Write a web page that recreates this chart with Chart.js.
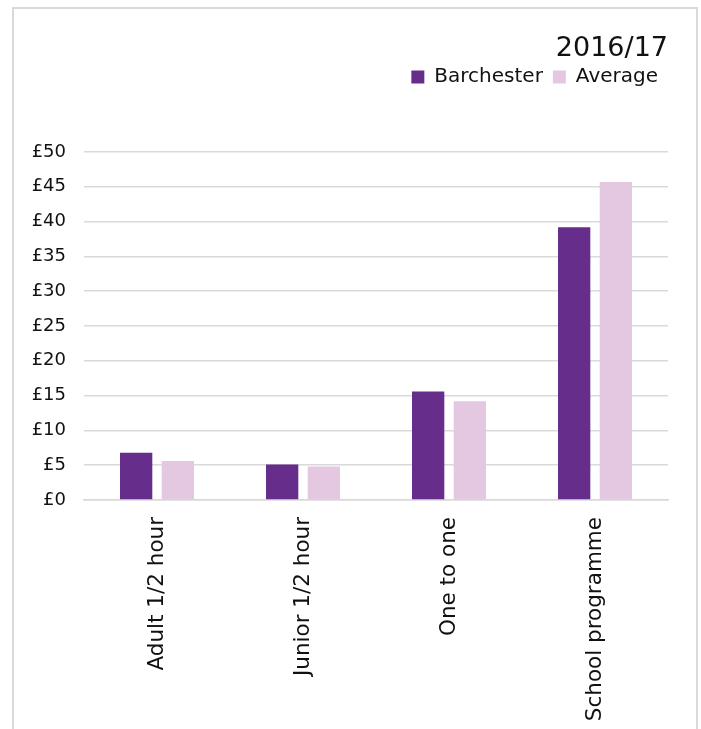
<!DOCTYPE html>
<html>
<head>
<meta charset="utf-8">
<script src="https://cdn.jsdelivr.net/npm/chart.js@4/dist/chart.umd.min.js"></script>
<style>
  html, body { margin:0; padding:0; background:#fff; }
  #wrap { position:relative; width:701px; height:729px; overflow:hidden; }
  #frame { position:absolute; left:12px; top:7px; width:686px; height:760px; border:2px solid #d9d9d9; box-sizing:border-box; }
  #c { position:absolute; left:0; top:0; }
</style>
</head>
<body>
<div id="wrap">
  <div id="frame"></div>
  <canvas id="c" width="701" height="729"></canvas>
</div>
<script>
const categories = ['Adult 1/2 hour', 'Junior 1/2 hour', 'One to one', 'School programme'];
const barchester = [6.8, 5.1, 15.6, 39.2];
const average    = [5.6, 4.8, 14.2, 45.7];
const yMin = 0, yMax = 50, yStep = 5;

const FONT = "'DejaVu Sans', Verdana, sans-serif";
const GRID = '#d9d9d9';

new Chart(document.getElementById('c'), {
  type:'bar',
  data:{
    labels: categories,
    datasets:[
      { label:'Barchester', data:barchester, backgroundColor:'#662d8a' },
      { label:'Average',    data:average,    backgroundColor:'#e4c8e2' },
    ]
  },
  options:{
    responsive:false, animation:false,
    layout:{ padding:{ left:14, right:33, top:0, bottom:0 } },
    datasets:{ bar:{ categoryPercentage:0.571, barPercentage:0.775 } },
    plugins:{
      title:{ display:true, text:'2016/17', align:'end', color:'#111',
              font:{ family:FONT, size:27, weight:'normal', lineHeight:1 },
              padding:{ top:35, bottom:-5 } },
      subtitle:{ display:true, text:'', weight:500,
                 font:{ family:FONT, size:10, lineHeight:1 },
                 padding:{ top:45, bottom:0 } },
      legend:{ align:'end',
               labels:{ color:'#111', font:{ family:FONT, size:20 }, boxWidth:13, boxHeight:13, padding:10 } },
      tooltip:{ enabled:false }
    },
    scales:{
      x:{
        grid:{ display:false },
        border:{ display:true, color:GRID, width:1.5 },
        ticks:{ color:'#111', font:{ family:FONT, size:21.5 }, minRotation:90, maxRotation:90, padding:9 },
        afterFit:s => { s.height = 229; }
      },
      y:{
        min:yMin, max:yMax,
        grid:{ color:GRID, lineWidth:1.5, drawTicks:false },
        border:{ display:false },
        ticks:{ stepSize:yStep, color:'#111', font:{ family:FONT, size:18 }, padding:18,
                callback:v => '£' + v },
        afterFit:s => { s.width = 70; }
      }
    }
  }
});
</script>
</body>
</html>
